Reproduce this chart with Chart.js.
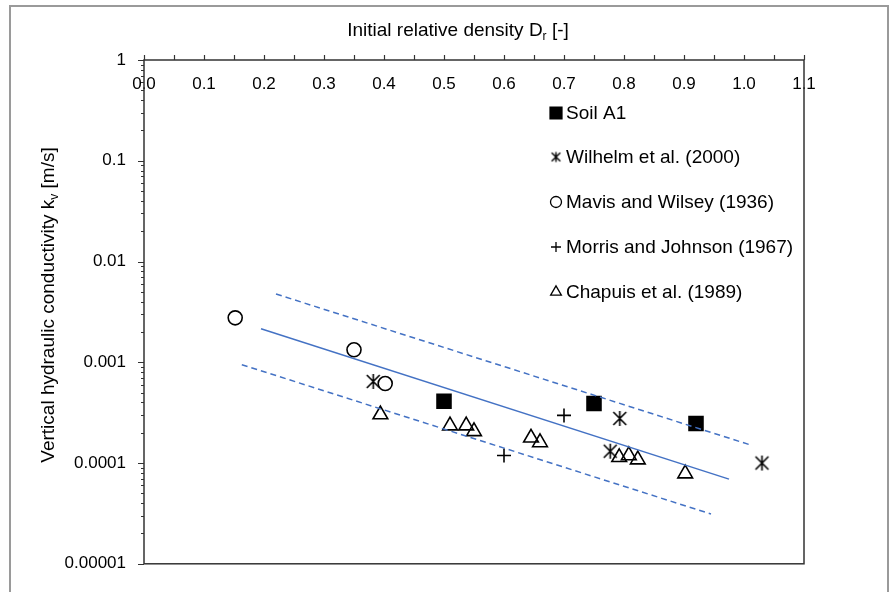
<!DOCTYPE html>
<html>
<head>
<meta charset="utf-8">
<script src="https://cdn.jsdelivr.net/npm/chart.js@4.4.0/dist/chart.umd.min.js"></script>
<style>
  html, body { margin: 0; padding: 0; background: #fff; }
  #wrap { position: relative; width: 890px; height: 592px; }
  canvas { display: block; }
</style>
</head>
<body>
<div id="wrap"><canvas id="chart" width="890" height="592"></canvas></div>
<script>
// Initial relative density Dr [-] (x) against vertical hydraulic conductivity kv [m/s] (y)
const soilA1Dr = [0.50, 0.75, 0.92];
const soilA1Kv = [0.00041, 0.00039, 0.000247];

const wilhelmDr = [0.382, 0.793, 0.777, 1.03];
const wilhelmKv = [0.000645, 0.000277, 0.000131, 0.0001];

const mavisDr = [0.152, 0.35, 0.402];
const mavisKv = [0.00276, 0.00133, 0.000615];

const morrisDr = [0.70, 0.60];
const morrisKv = [0.000297, 0.000119];

const chapuisDr = [0.394, 0.51, 0.537, 0.55, 0.645, 0.66, 0.792, 0.808, 0.823, 0.902];
const chapuisKv = [0.000303, 0.000235, 0.000235, 0.000206, 0.000178, 0.00016, 0.000114, 0.000119, 0.000108, 0.0000785];

// Regression line and its upper / lower bounds (end points)
const fitDr = [0.195, 0.975];
const fitKv = [0.00215, 0.0000692];
const upperDr = [0.22, 1.008];
const upperKv = [0.00476, 0.000153];
const lowerDr = [0.163, 0.945];
const lowerKv = [0.000947, 0.0000312];

const seriesNames = ['Soil A1', 'Wilhelm et al. (2000)', 'Mavis and Wilsey (1936)', 'Morris and Johnson (1967)', 'Chapuis et al. (1989)'];

const xTickValues = [0, 0.1, 0.2, 0.3, 0.4, 0.5, 0.6, 0.7, 0.8, 0.9, 1.0, 1.1];
const xTickLabels = ['0.0', '0.1', '0.2', '0.3', '0.4', '0.5', '0.6', '0.7', '0.8', '0.9', '1.0', '1.1'];
const yTickValues = [0.00001, 0.0001, 0.001, 0.01, 0.1, 1];
const yTickLabels = ['0.00001', '0.0001', '0.001', '0.01', '0.1', '1'];

const FONT = "'Liberation Sans', Arial, sans-serif";
const LINE_BLUE = '#4472c4';

const pairs = (xs, ys) => xs.map((x, i) => ({ x: x, y: ys[i] }));

// Asterisk marker: vertical bar plus an X
function makeAsterisk(half, lw) {
  const size = Math.ceil(half * 2 + lw * 2 + 2);
  const c = document.createElement('canvas');
  c.width = size; c.height = size;
  const g = c.getContext('2d');
  const m = size / 2;
  const d = half * 0.86;
  g.strokeStyle = '#000';
  g.lineWidth = lw;
  g.lineCap = 'butt';
  g.beginPath();
  g.moveTo(m, m - half); g.lineTo(m, m + half);
  g.moveTo(m - d, m - d); g.lineTo(m + d, m + d);
  g.moveTo(m + d, m - d); g.lineTo(m - d, m + d);
  g.stroke();
  return c;
}
const asteriskBig = makeAsterisk(7.5, 1.6);
const asteriskSmall = makeAsterisk(5, 1.4);

const datasets = [
  { label: 'fit', data: pairs(fitDr, fitKv), showLine: true, borderColor: LINE_BLUE, borderWidth: 1.5, pointRadius: 0, order: 0 },
  { label: 'upper', data: pairs(upperDr, upperKv), showLine: true, borderColor: LINE_BLUE, borderWidth: 1.5, borderDash: [6, 4], pointRadius: 0, order: 0 },
  { label: 'lower', data: pairs(lowerDr, lowerKv), showLine: true, borderColor: LINE_BLUE, borderWidth: 1.5, borderDash: [6, 4], pointRadius: 0, order: 0 },
  { label: seriesNames[0], data: pairs(soilA1Dr, soilA1Kv), pointStyle: 'rect', pointRadius: 11, backgroundColor: '#000', borderColor: '#000', borderWidth: 0, order: 1 },
  { label: seriesNames[1], data: pairs(wilhelmDr, wilhelmKv), pointStyle: asteriskBig, pointRadius: 8, order: 1 },
  { label: seriesNames[2], data: pairs(mavisDr, mavisKv), pointStyle: 'circle', pointRadius: 7, backgroundColor: 'rgba(0,0,0,0)', borderColor: '#000', borderWidth: 1.6, order: 1 },
  { label: seriesNames[3], data: pairs(morrisDr, morrisKv), pointStyle: 'cross', pointRadius: 7, borderColor: '#000', borderWidth: 1.6, order: 1 },
  { label: seriesNames[4], data: pairs(chapuisDr, chapuisKv), pointStyle: 'triangle', pointRadius: 8.5, backgroundColor: 'rgba(0,0,0,0)', borderColor: '#000', borderWidth: 1.6, order: 1 }
];

// Background, outer frame, plot frame, tick marks, axis titles and legend
const decorations = {
  id: 'decorations',
  beforeDraw(chart) {
    const ctx = chart.ctx;
    ctx.save();
    ctx.fillStyle = '#fff';
    ctx.fillRect(0, 0, chart.width, chart.height);
    ctx.strokeStyle = '#9a9a9a';
    ctx.lineWidth = 2;
    ctx.strokeRect(10, 6, 878, 600);
    ctx.restore();
  },
  afterDraw(chart) {
    const ctx = chart.ctx;
    const a = chart.chartArea;
    const xs = chart.scales.x, ys = chart.scales.y;
    ctx.save();
    // plot frame
    ctx.strokeStyle = '#333';
    ctx.lineWidth = 1.5;
    ctx.strokeRect(a.left, a.top, a.right - a.left, a.bottom - a.top);
    // x tick marks (upwards from the top axis), every 0.05
    ctx.lineWidth = 1.2;
    ctx.beginPath();
    for (let i = 0; i <= 22; i++) {
      const px = Math.round(xs.getPixelForValue(i * 0.05)) + 0.5;
      ctx.moveTo(px, a.top);
      ctx.lineTo(px, a.top - 5);
    }
    // y tick marks (leftwards), major at decades, minor in between
    for (let e = -5; e <= 0; e++) {
      const py = Math.round(ys.getPixelForValue(Math.pow(10, e))) + 0.5;
      ctx.moveTo(a.left, py);
      ctx.lineTo(a.left - 6, py);
      if (e < 0) {
        for (let m = 2; m <= 9; m++) {
          const pm = Math.round(ys.getPixelForValue(m * Math.pow(10, e))) + 0.5;
          ctx.moveTo(a.left, pm);
          ctx.lineTo(a.left - 3, pm);
        }
      }
    }
    ctx.stroke();

    // axis titles with subscripts
    ctx.fillStyle = '#000';
    ctx.textBaseline = 'alphabetic';
    const drawSubTitle = (parts, cx, cy) => {
      // parts: [text, size, dy]
      let w = 0;
      parts.forEach(p => { ctx.font = p[1] + 'px ' + FONT; w += ctx.measureText(p[0]).width; });
      let x = cx - w / 2;
      ctx.textAlign = 'left';
      parts.forEach(p => {
        ctx.font = p[1] + 'px ' + FONT;
        ctx.fillText(p[0], x, cy + p[2]);
        x += ctx.measureText(p[0]).width;
      });
    };
    drawSubTitle([['Initial relative density D', 19, 0], ['r', 12, 4], [' [-]', 19, 0]], 458, 36);
    ctx.save();
    ctx.translate(54, 305);
    ctx.rotate(-Math.PI / 2);
    drawSubTitle([['Vertical hydraulic conductivity k', 19, 0], ['v', 12, 4], [' [m/s]', 19, 0]], 0, 0);
    ctx.restore();

    // legend
    const lx = 556, textX = 566;
    const rows = [113, 157, 202, 247, 292];
    const styles = [
      { pointStyle: 'rect', radius: 8.5, fill: true },
      { pointStyle: asteriskSmall, radius: 5 },
      { pointStyle: 'circle', radius: 5.5 },
      { pointStyle: 'cross', radius: 5 },
      { pointStyle: 'triangle', radius: 6.2 }
    ];
    ctx.font = '19px ' + FONT;
    ctx.textAlign = 'left';
    ctx.textBaseline = 'middle';
    rows.forEach((y, i) => {
      const s = styles[i];
      ctx.save();
      ctx.strokeStyle = '#000';
      ctx.fillStyle = s.fill ? '#000' : 'rgba(0,0,0,0)';
      ctx.lineWidth = s.fill ? 0 : 1.3;
      Chart.helpers.drawPoint(ctx, { pointStyle: s.pointStyle, radius: s.radius, rotation: 0, borderWidth: ctx.lineWidth }, lx, y);
      ctx.restore();
      ctx.fillStyle = '#000';
      ctx.fillText(seriesNames[i], textX, y + 1);
    });
    ctx.restore();
  }
};

new Chart(document.getElementById('chart'), {
  type: 'scatter',
  data: { datasets: datasets },
  options: {
    responsive: false,
    animation: false,
    devicePixelRatio: 1,
    layout: { padding: { left: 0, top: 0, right: 86, bottom: 26 } },
    plugins: { legend: { display: false }, tooltip: { enabled: false } },
    scales: {
      x: {
        type: 'linear',
        position: 'top',
        min: 0,
        max: 1.1,
        afterFit: s => { s.height = 60; },
        afterBuildTicks: s => { s.ticks = xTickValues.map(v => ({ value: v })); },
        grid: { display: false, drawTicks: false },
        border: { display: false },
        ticks: {
          mirror: true,
          padding: 14,
          autoSkip: false,
          maxRotation: 0,
          color: '#000',
          font: { family: FONT, size: 17 },
          callback: (v, i) => xTickLabels[i]
        }
      },
      y: {
        type: 'logarithmic',
        position: 'left',
        min: 0.00001,
        max: 1,
        afterFit: s => { s.width = 144; },
        afterBuildTicks: s => { s.ticks = yTickValues.map(v => ({ value: v })); },
        grid: { display: false, drawTicks: false },
        border: { display: false },
        ticks: {
          padding: 18,
          autoSkip: false,
          color: '#000',
          font: { family: FONT, size: 17 },
          callback: (v, i) => yTickLabels[i]
        }
      }
    }
  },
  plugins: [decorations]
});
</script>
</body>
</html>
